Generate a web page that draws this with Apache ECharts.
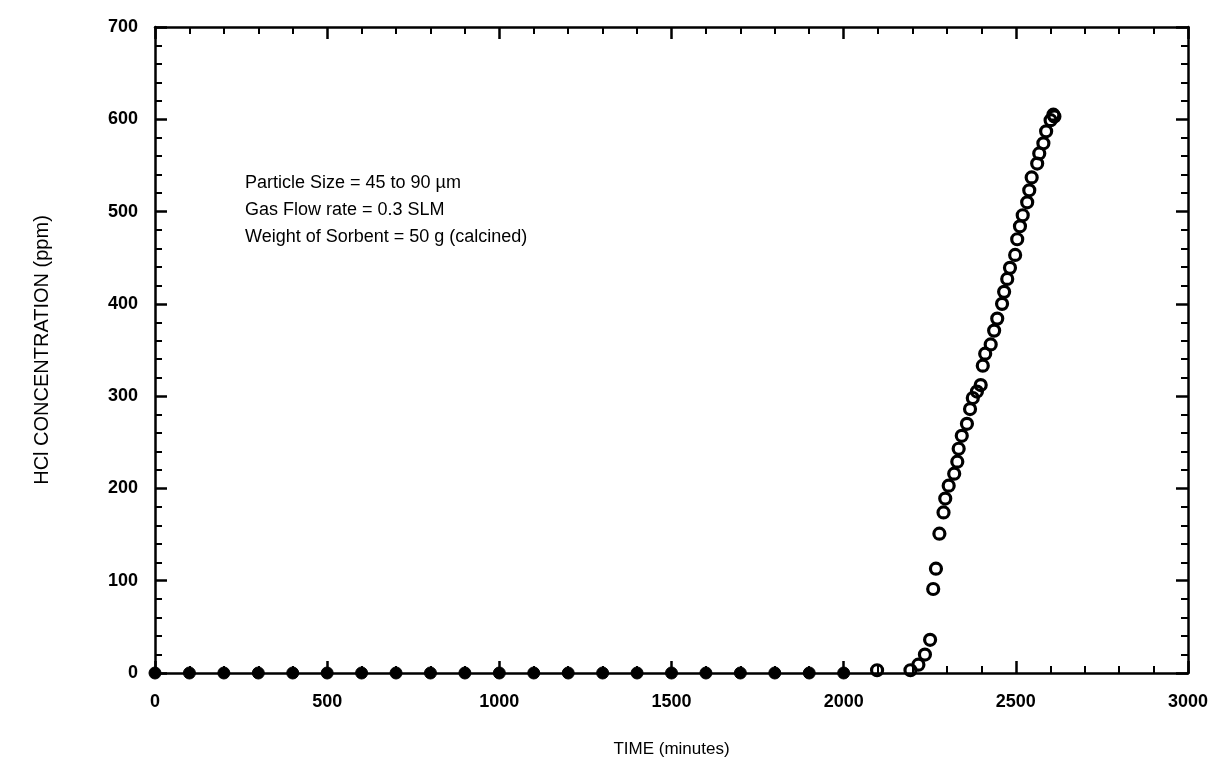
<!DOCTYPE html>
<html>
<head>
<meta charset="utf-8">
<title>HCl breakthrough</title>
<script src="https://cdn.jsdelivr.net/npm/echarts@6/dist/echarts.min.js"></script>
<style>
  html, body { margin: 0; padding: 0; background: #fff; }
  #chart { width: 1215px; height: 781px; }
</style>
</head>
<body>
<div id="chart"></div>
<script>
// 数据：出口 HCl 浓度 (ppm) 随时间 (minutes)
var flatTime = [0, 100, 200, 300, 400, 500, 600, 700, 800, 900, 1000,
                1100, 1200, 1300, 1400, 1500, 1600, 1700, 1800, 1900, 2000];
var flatHcl = [0, 0, 0, 0, 0, 0, 0, 0, 0, 0, 0,
               0, 0, 0, 0, 0, 0, 0, 0, 0, 0];

var riseTime = [2097, 2194, 2217, 2236, 2251, 2260, 2268, 2278, 2290, 2295,
                2305, 2321, 2330, 2334, 2343, 2358, 2367, 2375, 2387, 2398,
                2404, 2411, 2427, 2437, 2446, 2460, 2466, 2475, 2483, 2498,
                2504, 2512, 2520, 2533, 2539, 2546, 2562, 2568, 2580, 2588,
                2601, 2609, 2612];
var riseHcl = [3, 3, 9, 20, 36, 91, 113, 151, 174, 189,
               203, 216, 229, 243, 257, 270, 286, 298, 305, 312,
               333, 346, 356, 371, 384, 400, 413, 427, 439, 453,
               470, 484, 496, 510, 523, 537, 552, 563, 574, 587,
               599, 605, 603];

var xTicks = [0, 500, 1000, 1500, 2000, 2500, 3000];
var yTicks = [0, 100, 200, 300, 400, 500, 600, 700];

var notes = [
   'Particle Size = 45 to 90 \u00b5m',
   'Gas Flow rate = 0.3 SLM',
   'Weight of Sorbent = 50 g (calcined)'
];

function pairs(xs, ys) {
   return xs.map(function (x, i) { return [x, ys[i]]; });
}

var chart = echarts.init(document.getElementById('chart'));

var lineStyle = { color: '#000', width: 2.5 };
var fontFam = '"Liberation Sans", Arial, sans-serif';

function xAxisCfg(pos, showLabel) {
   return {
      type: 'value', position: pos,
      min: xTicks[0], max: xTicks[xTicks.length - 1], interval: 500,
      name: showLabel ? 'TIME (minutes)' : '',
      nameLocation: 'middle', nameGap: 68,
      nameTextStyle: { color: '#000', fontSize: 17, fontFamily: fontFam },
      axisLine: { show: true, onZero: false, lineStyle: lineStyle },
      axisTick: { show: true, inside: true, length: 12, lineStyle: lineStyle },
      minorTick: { show: true, splitNumber: 5, length: 7, lineStyle: { color: '#000', width: 2 } },
      axisLabel: {
         show: showLabel, margin: 20, color: '#000', fontSize: 18, fontWeight: 'bold', fontFamily: fontFam,
         formatter: function (v) { return String(v); }
      },
      splitLine: { show: false }
   };
}

function yAxisCfg(pos, showLabel) {
   return {
      type: 'value', position: pos,
      min: yTicks[0], max: yTicks[yTicks.length - 1], interval: 100,
      name: showLabel ? 'HCl CONCENTRATION (ppm)' : '',
      nameLocation: 'middle', nameGap: 103, nameRotate: 90,
      nameTextStyle: { color: '#000', fontSize: 20, fontFamily: fontFam },
      axisLine: { show: true, onZero: false, lineStyle: lineStyle },
      axisTick: { show: true, inside: true, length: 12, lineStyle: lineStyle },
      minorTick: { show: true, splitNumber: 5, length: 7, lineStyle: { color: '#000', width: 2 } },
      axisLabel: {
         show: showLabel, margin: 17, color: '#000', fontSize: 18, fontWeight: 'bold', fontFamily: fontFam,
         formatter: function (v) { return String(v); }
      },
      splitLine: { show: false }
   };
}

var option = {
   backgroundColor: '#fff',
   animation: false,
   grid: { left: 155, right: 27, top: 27, bottom: 108 },
   xAxis: [xAxisCfg('bottom', true), xAxisCfg('top', false)],
   yAxis: [yAxisCfg('left', true), yAxisCfg('right', false)],
   // 说明文字
   graphic: notes.map(function (t, i) {
      return {
         type: 'text', left: 245, top: 174 + i * 27,
         style: { text: t, fill: '#000', fontSize: 18, fontFamily: fontFam }
      };
   }),
   series: [
      {
         name: 'flat',
         type: 'scatter',
         symbol: 'circle',
         symbolSize: 12,
         itemStyle: { color: '#000', borderColor: '#000', borderWidth: 1, opacity: 1 },
         data: pairs(flatTime, flatHcl),
         z: 3
      },
      {
         name: 'rise',
         type: 'scatter',
         symbol: 'circle',
         symbolSize: 11,
         itemStyle: { color: 'rgba(255,255,255,0)', borderColor: '#000', borderWidth: 3.2, opacity: 1 },
         data: pairs(riseTime, riseHcl),
         z: 3
      }
   ]
};

chart.setOption(option);
</script>
</body>
</html>
